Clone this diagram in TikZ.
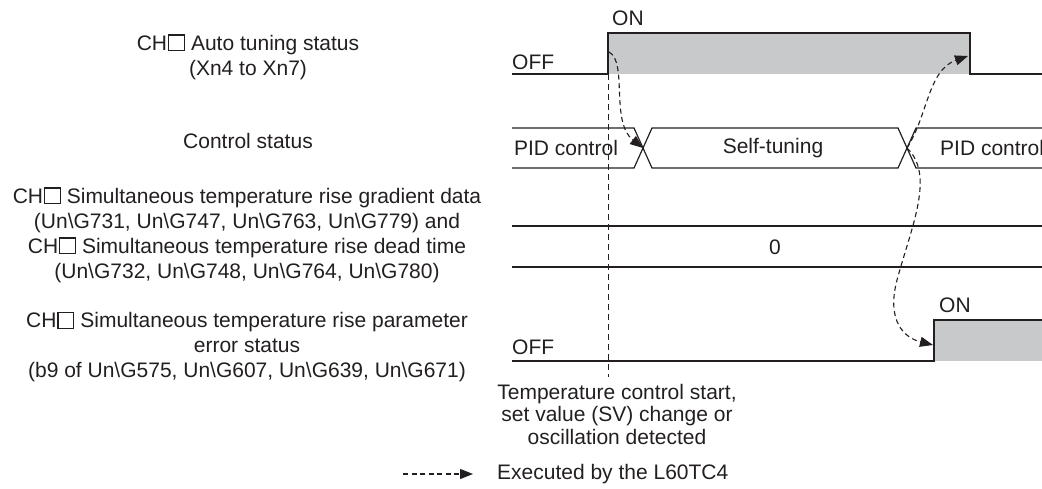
\documentclass[tikz,border=0pt]{standalone}
\usepackage{fontspec}
\setmainfont{Liberation Sans}
\usetikzlibrary{arrows.meta}
\definecolor{ink}{HTML}{231F20}
\definecolor{fillg}{HTML}{C8C9CA}
\newcommand\chsq{\hspace{1pt}{\setlength\fboxsep{0pt}\setlength\fboxrule{1.2pt}\fbox{\rule{0pt}{14.5pt}\hspace{14.5pt}}}}
\begin{document}
\begin{tikzpicture}[x=1pt,y=-1pt,
  every node/.style={font=\fontsize{21}{25}\selectfont, text=ink, inner sep=0pt},
  lbl/.style={align=center},
  sig/.style={draw=ink, line width=1.2pt},
  guide/.style={draw=ink, line width=1pt, dash pattern=on 6pt off 4pt},
  exec/.style={draw=ink, line width=1.1pt, dash pattern=on 5pt off 3.5pt, -{Triangle[length=13pt,width=10pt]}},
  wlbl/.style={anchor=west}
]
\useasboundingbox (0,0) rectangle (1042,488);

% ---- left labels
\node[lbl] (l1) at (248,57) {CH\chsq\hspace{6pt}Auto tuning status\\(Xn4 to Xn7)};
\node[lbl] (l2) at (248,141) {Control status};
\node[lbl] (l3) at (247,235) {CH\chsq{} Simultaneous temperature rise gradient data\\(Un\textbackslash G731, Un\textbackslash G747, Un\textbackslash G763, Un\textbackslash G779) and\\CH\chsq{} Simultaneous temperature rise dead time\\(Un\textbackslash G732, Un\textbackslash G748, Un\textbackslash G764, Un\textbackslash G780)};
\node[lbl] (l4) at (247,347) {CH\chsq\hspace{6pt}Simultaneous temperature rise parameter\\error status\\(b9 of Un\textbackslash G575, Un\textbackslash G607, Un\textbackslash G639, Un\textbackslash G671)};

% ---- row 1: auto tuning status
\fill[fillg] (608,33) rectangle (970,74);
\draw[sig] (512,74) -- (608,74) -- (608,33) -- (970,33) -- (970,74) -- (1042,74);
\node[wlbl] (off1) at (512,62) {OFF};
\node[wlbl] (on1) at (612,18) {ON};

% ---- row 2: control status
\draw[sig] (512,128) -- (634,128) -- (652,168) -- (898,168) -- (916,128) -- (1042,128);
\draw[sig] (512,168) -- (634,168) -- (652,128) -- (898,128) -- (916,168) -- (1042,168);
\coordinate (x1) at (643,148);
\coordinate (x2) at (907,148);
\node (pid1) at (566,148) {PID control};
\node (self) at (773,148) {Self-tuning};
\node[wlbl] (pid2) at (940,148) {PID control};

% ---- row 3: data
\draw[sig] (512,226) -- (1042,226);
\draw[sig] (512,267) -- (1042,267);
\node (zero) at (775,247) {0};

% ---- row 4: error status
\fill[fillg] (934,320) rectangle (1042,361);
\draw[sig] (512,361) -- (934,361) -- (934,320) -- (1042,320);
\node[wlbl] (off4) at (512,347) {OFF};
\node[wlbl] (on4) at (939,305) {ON};

% ---- trigger guide line
\coordinate (gtop) at (608,74);
\coordinate (gbot) at (608,377);
\draw[guide] (gtop) -- (gbot);
\node[lbl, font=\fontsize{21}{22.5}\selectfont] (trig) at (617,414) {Temperature control start,\\set value (SV) change or\\oscillation detected};

% ---- executed-by arrows
\coordinate (a1s) at (609,52);
\coordinate (a2e) at (968,56);
\coordinate (a3e) at (933,345);
\draw[exec] (a1s) .. controls (628,62) and (610,122) .. (x1);
\draw[exec] (x2) .. controls (928,115) and (928,70) .. (a2e);
\draw[exec] (x2) .. controls (935,175) and (912,225) .. (897,280) .. controls (886,322) and (905,338) .. (a3e);

% ---- legend
\coordinate (lgs) at (403,474);
\coordinate (lge) at (473,474);
\draw[exec] (lgs) -- (lge);
\node[wlbl] (lgt) at (497,474) {Executed by the L60TC4};
\end{tikzpicture}
\end{document}
